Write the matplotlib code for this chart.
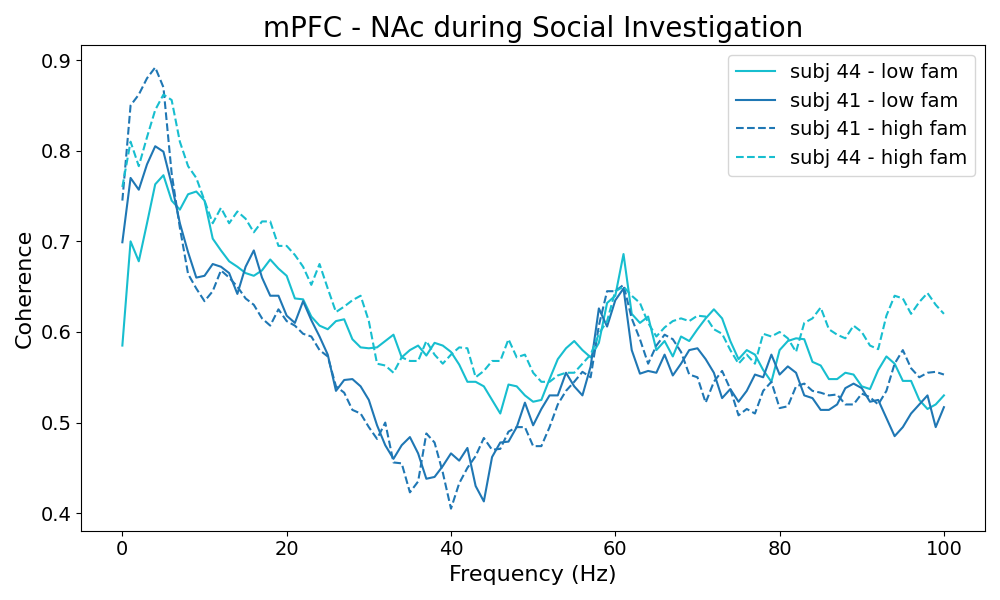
import matplotlib
matplotlib.use("Agg")
import matplotlib.pyplot as plt
import numpy as np

freqs = np.arange(0, 101)

subj44_low = [0.585,0.70,0.678,0.72,0.763,0.773,0.745,0.735,0.752,0.755,
              0.745,0.703,0.69,0.678,0.672,0.665,0.662,0.668,0.68,0.67,
              0.662,0.637,0.636,0.617,0.607,0.603,0.612,0.614,0.592,0.583,
              0.582,0.583,0.59,0.597,0.572,0.58,0.585,0.574,0.588,0.585,
              0.578,0.564,0.545,0.545,0.54,0.525,0.51,0.542,0.54,0.53,
              0.523,0.525,0.548,0.57,0.582,0.59,0.58,0.572,0.588,0.632,
              0.64,0.686,0.62,0.61,0.617,0.58,0.59,0.573,0.595,0.59,
              0.603,0.615,0.625,0.615,0.59,0.57,0.58,0.575,0.558,0.545,
              0.58,0.59,0.593,0.592,0.567,0.563,0.548,0.548,0.555,0.553,
              0.54,0.537,0.558,0.573,0.565,0.546,0.546,0.525,0.515,0.52,0.53]

subj41_low = [0.699,0.77,0.757,0.785,0.805,0.799,0.763,0.72,0.688,0.66,
              0.662,0.675,0.672,0.665,0.642,0.672,0.69,0.66,0.64,0.64,
              0.618,0.61,0.634,0.613,0.595,0.575,0.535,0.547,0.548,0.54,
              0.525,0.497,0.475,0.46,0.475,0.484,0.466,0.438,0.44,0.452,
              0.466,0.458,0.472,0.43,0.413,0.462,0.478,0.479,0.495,0.522,
              0.497,0.515,0.53,0.53,0.555,0.54,0.53,0.562,0.626,0.606,
              0.635,0.648,0.58,0.554,0.557,0.555,0.575,0.552,0.565,0.58,
              0.582,0.57,0.555,0.527,0.537,0.523,0.535,0.553,0.55,0.575,
              0.553,0.562,0.555,0.53,0.527,0.514,0.514,0.52,0.538,0.543,
              0.538,0.523,0.525,0.505,0.485,0.495,0.51,0.52,0.53,0.495,0.517]

subj41_high = [0.745,0.85,0.862,0.88,0.892,0.87,0.775,0.715,0.664,0.648,
               0.634,0.645,0.668,0.66,0.65,0.637,0.63,0.615,0.607,0.625,
               0.612,0.607,0.598,0.595,0.58,0.573,0.54,0.533,0.514,0.51,
               0.495,0.482,0.5,0.456,0.455,0.423,0.435,0.488,0.478,0.445,
               0.405,0.433,0.45,0.463,0.483,0.47,0.471,0.49,0.495,0.495,
               0.474,0.474,0.495,0.52,0.535,0.545,0.556,0.55,0.607,0.645,
               0.645,0.652,0.615,0.592,0.565,0.585,0.597,0.592,0.578,0.553,
               0.55,0.522,0.545,0.557,0.537,0.508,0.515,0.51,0.535,0.545,
               0.516,0.518,0.54,0.543,0.535,0.533,0.53,0.531,0.52,0.52,
               0.532,0.528,0.52,0.535,0.565,0.58,0.56,0.55,0.555,0.556,0.553]

subj44_high = [0.76,0.81,0.783,0.815,0.845,0.862,0.856,0.81,0.783,0.77,
               0.745,0.72,0.737,0.72,0.733,0.725,0.71,0.722,0.722,0.695,
               0.695,0.685,0.672,0.652,0.675,0.648,0.622,0.628,0.635,0.64,
               0.612,0.565,0.563,0.555,0.572,0.568,0.568,0.59,0.575,0.565,
               0.575,0.583,0.582,0.55,0.557,0.568,0.568,0.592,0.572,0.575,
               0.555,0.545,0.545,0.552,0.555,0.555,0.565,0.575,0.598,0.612,
               0.645,0.65,0.64,0.632,0.61,0.595,0.605,0.612,0.615,0.612,
               0.618,0.617,0.603,0.598,0.58,0.565,0.575,0.565,0.598,0.595,
               0.6,0.593,0.578,0.61,0.615,0.627,0.603,0.597,0.593,0.607,
               0.6,0.585,0.581,0.618,0.64,0.637,0.62,0.633,0.643,0.63,0.62]

fig, ax = plt.subplots(figsize=(10, 6), dpi=100)
ax.plot(freqs, subj44_low, color="tab:cyan", label="subj 44 - low fam")
ax.plot(freqs, subj41_low, color="tab:blue", label="subj 41 - low fam")
ax.plot(freqs, subj41_high, color="tab:blue", linestyle="--", label="subj 41 - high fam")
ax.plot(freqs, subj44_high, color="tab:cyan", linestyle="--", label="subj 44 - high fam")

ax.set_title("mPFC - NAc during Social Investigation", fontsize=20)
ax.set_xlabel("Frequency (Hz)", fontsize=16)
ax.set_ylabel("Coherence", fontsize=16)
ax.tick_params(labelsize=14)
ax.legend(fontsize=14, loc="upper right")
plt.tight_layout()
plt.savefig("out.png")
